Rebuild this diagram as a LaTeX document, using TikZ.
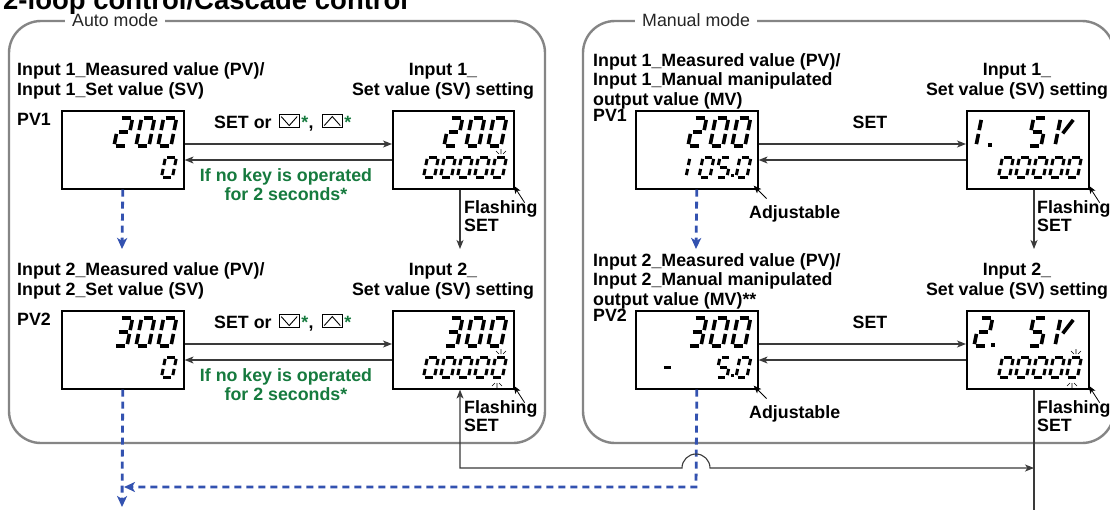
\documentclass[tikz,border=0pt]{standalone}
\usepackage{fontspec}
\setmainfont{Liberation Sans}
\usetikzlibrary{arrows.meta,calc}

\definecolor{framegray}{HTML}{858585}
\definecolor{keygreen}{HTML}{167A3E}
\definecolor{linkblue}{HTML}{3352B0}
\definecolor{wiregray}{HTML}{3A3A3A}

% seven-segment characters: left, bottom, width, height, stroke, segments
\newcommand\lcdchar[6]{\begin{scope}[shift={(#1,#2)},xslant=0.2,yscale=-1,line width=#5pt]\def\lcw{#3}\def\lch{#4}#6\end{scope}}
\newcommand\bigch[3]{\lcdchar{#1}{#2}{13}{28}{3.6}{#3}}
\newcommand\smch[3]{\lcdchar{#1}{#2}{11}{20}{3.0}{#3}}
\def\lcg{1.9}
\newcommand\sgA{\draw (\lcg,\lch)--(\lcw-\lcg,\lch);}
\newcommand\sgB{\draw (\lcw,\lch-\lcg)--(\lcw,\lch/2+\lcg);}
\newcommand\sgC{\draw (\lcw,\lch/2-\lcg)--(\lcw,\lcg);}
\newcommand\sgD{\draw (\lcg,0)--(\lcw-\lcg,0);}
\newcommand\sgE{\draw (0,\lcg)--(0,\lch/2-\lcg);}
\newcommand\sgF{\draw (0,\lch/2+\lcg)--(0,\lch-\lcg);}
\newcommand\sgG{\draw (\lcg,\lch/2)--(\lcw-\lcg,\lch/2);}
\newcommand\sgV{\draw (\lcw,\lch-\lcg)--(0.4*\lcw,0.45*\lch);}
\newcommand\dzero{\sgA\sgB\sgC\sgD\sgE\sgF}
\newcommand\dtwo{\sgA\sgB\sgG\sgE\sgD}
\newcommand\dthree{\sgA\sgB\sgG\sgC\sgD}
\newcommand\dfive{\sgA\sgF\sgG\sgC\sgD}
\newcommand\dleftone{\sgE\sgF}
\newcommand\dminus{\sgG}
\newcommand\dvee{\sgE\sgF\sgV}
% blinking marks above / below a digit
\newcommand\raysup[2]{\draw[ray] (#1-5,#2-5)--(#1-2,#2-2) (#1,#2-7)--(#1,#2-2) (#1+5,#2-5)--(#1+2,#2-2);}
\newcommand\raysdn[2]{\draw[ray] (#1-5,#2+5)--(#1-2,#2+2) (#1,#2+7)--(#1,#2+2) (#1+5,#2+5)--(#1+2,#2+2);}

% one row of the automatic-mode flow
\newcommand\autorow[3]{%
  \node[txt,anchor=base west] (a#1h1) at (17,75+#2) {Input #1\_Measured value (PV)/};
  \node[txt,anchor=base west] (a#1h2) at (17,95+#2) {Input #1\_Set value (SV)};
  \node[txt,anchor=base] (a#1s1) at (443,75+#2) {Input #1\_};
  \node[txt,anchor=base] (a#1s2) at (443,95+#2) {Set value (SV) setting};
  \node[txt,anchor=base west] (a#1pv) at (17,125+#2) {PV#1};
  \node[lcd] (a#1l) at (61,110+#2) {};
  \node[lcd,minimum width=121pt] (a#1r) at (392,110+#2) {};
  \bigch{114}{146+#2}{#3}\bigch{136}{146+#2}{\dzero}\bigch{158}{146+#2}{\dzero}
  \smch{161.5}{177+#2}{\dzero}
  \bigch{444}{146+#2}{#3}\bigch{466}{146+#2}{\dzero}\bigch{488}{146+#2}{\dzero}
  \foreach \cx in {423.5,440.5,457.5,474.5,491.5}{\smch{\cx}{177+#2}{\dzero}}
  \raysup{501}{156+#2}
  \node[txt,anchor=base west] (a#1set) at (214,128+#2) {SET or};
  \node[keydown,anchor=south west] (a#1kd) at ($(a#1set.base east)+(7,0)$) {};
  \node[gtxt,anchor=base west] (a#1st1) at ($(a#1kd.south east)+(1.5,0)$) {*};
  \node[txt,anchor=base west] (a#1cm) at (a#1st1.base east) {,};
  \node[keyup,anchor=south west] (a#1ku) at ($(a#1cm.base east)+(8,0)$) {};
  \node[gtxt,anchor=base west] (a#1st2) at ($(a#1ku.south east)+(1.5,0)$) {*};
  \draw[wire,arr] ($(a#1l.north east)+(0,34)$) -- ($(a#1r.north west)+(0,34)$);
  \draw[wire,arr] ($(a#1r.north west)+(0,50)$) -- ($(a#1l.north east)+(0,50)$);
  \node[gtxt,anchor=base] (a#1g1) at (286,181+#2) {If no key is operated};
  \node[gtxt,anchor=base] (a#1g2) at (286,200+#2) {for 2 seconds*};
  \node[txt,anchor=base west] (a#1fl) at (464,213+#2) {Flashing};
  \node[txt,anchor=base west] (a#1fs) at (464,231+#2) {SET};
  \draw[pointer] ($(a#1r.south east)+(10,13)$) -- ($(a#1r.south east)+(-1,-4)$);
}

% one row of the manual-mode flow
\newcommand\manrow[6]{%
  \node[txt,anchor=base west] (m#1h1) at (593,66+#2) {Input #1\_Measured value (PV)/};
  \node[txt,anchor=base west] (m#1h2) at (593,85.5+#2) {Input #1\_Manual manipulated};
  \node[txt,anchor=base west] (m#1h3) at (593,105+#2) {output value (MV)#6};
  \node[txt,anchor=base] (m#1s1) at (1017,75+#2) {Input #1\_};
  \node[txt,anchor=base] (m#1s2) at (1017,95+#2) {Set value (SV) setting};
  \node[txt,anchor=base west] (m#1pv) at (593,121+#2) {PV#1};
  \node[lcd] (m#1l) at (635,110+#2) {};
  \node[lcd] (m#1r) at (966,110+#2) {};
  \bigch{688}{146+#2}{#3}\bigch{710}{146+#2}{\dzero}\bigch{732}{146+#2}{\dzero}
  #4
  #5
  \bigch{1028}{146+#2}{\dfive}\bigch{1055}{146+#2}{\dvee}
  \foreach \cx in {998.5,1015.5,1032.5,1049.5,1066.5}{\smch{\cx}{177+#2}{\dzero}}
  \node[txt,anchor=base] (m#1set) at (870,128+#2) {SET};
  \draw[wire,arr] ($(m#1l.north east)+(0,34)$) -- ($(m#1r.north west)+(0,34)$);
  \draw[wire,arr] ($(m#1r.north west)+(0,50)$) -- ($(m#1l.north east)+(0,50)$);
  \node[txt,anchor=base west] (m#1adj) at (749,218+#2) {Adjustable};
  \draw[pointer] ($(m#1l.south east)+(8,9)$) -- ($(m#1l.south east)+(-5,-4)$);
  \node[txt,anchor=base west] (m#1fl) at (1037,213+#2) {Flashing};
  \node[txt,anchor=base west] (m#1fs) at (1037,231+#2) {SET};
  \draw[pointer] ($(m#1r.south east)+(10,13)$) -- ($(m#1r.south east)+(-1,-4)$);
}

\begin{document}
\begin{tikzpicture}[x=1pt,y=-1pt,
  txt/.style={inner sep=0pt,font=\fontsize{17.8}{20}\selectfont\bfseries,text=black},
  gtxt/.style={txt,text=keygreen},
  mode/.style={inner sep=0pt,inner xsep=7pt,fill=white,font=\fontsize{17.8}{20}\selectfont,text=black!85},
  frame/.style={draw=framegray,line width=2.4pt,rounded corners=32pt},
  lcd/.style={draw=black,line width=1.6pt,minimum width=122pt,minimum height=78pt,inner sep=0pt,anchor=north west},
  wire/.style={draw=wiregray,line width=1.1pt},
  arr/.style={-{Stealth[length=9pt,width=7pt,inset=2.5pt]}},
  arrboth/.style={{Stealth[length=9pt,width=7pt,inset=2.5pt]}-{Stealth[length=9pt,width=7pt,inset=2.5pt]}},
  bluelink/.style={draw=linkblue,line width=2.8pt,dash pattern=on 7pt off 5pt,-{Stealth[length=11pt,width=10pt,inset=3pt]}},
  pointer/.style={draw=black,line width=0.8pt,-{Stealth[length=8pt,width=6pt,inset=2pt]}},
  ray/.style={line width=0.6pt},
  keybox/.style={draw=black,line width=0.9pt,minimum width=20pt,minimum height=13pt,inner sep=0pt},
  keydown/.style={keybox,path picture={\draw[line width=0.9pt] ([shift={(2pt,-2pt)}]path picture bounding box.north west) -- ([yshift=2pt]path picture bounding box.south) -- ([shift={(-2pt,-2pt)}]path picture bounding box.north east);}},
  keyup/.style={keybox,path picture={\draw[line width=0.9pt] ([shift={(2pt,2pt)}]path picture bounding box.south west) -- ([yshift=-2pt]path picture bounding box.north) -- ([shift={(-2pt,2pt)}]path picture bounding box.south east);}},
]
\useasboundingbox (0,0) rectangle (1110,509);
\fill[white] (0,0) rectangle (1110,509);

\node[anchor=base west,inner sep=0pt,font=\fontsize{27.5}{30}\selectfont\bfseries] (title) at (3,9) {2-loop control/Cascade control};

% mode frames
\draw[frame] (9,21) rectangle (545,443);
\node[mode,anchor=base west] (automode) at (65,26.5) {Auto mode};
\draw[frame] (583,21) rectangle (1114,443);
\node[mode,anchor=base west] (manmode) at (635,26.5) {Manual mode};

% automatic mode
\autorow{1}{0}{\dtwo}
\autorow{2}{200}{\dthree}
\raysdn{497}{381}

% manual mode
\manrow{1}{0}{\dtwo}{\smch{686}{177}{\dleftone}\smch{699}{177}{\dzero}\smch{716}{177}{\dfive}\fill (730.5,174) rectangle (733.5,177);\smch{736}{177}{\dzero}}{\bigch{976}{146}{\dleftone}\fill (988,143) rectangle (991.5,146.5);}{}
\manrow{2}{200}{\dthree}{\smch{660}{377}{\dminus}\smch{716}{377}{\dfive}\fill (730.5,374) rectangle (733.5,377);\smch{736}{377}{\dzero}}{\bigch{974}{346}{\dtwo}\fill (991,343) rectangle (994.5,346.5);}{**}
\raysup{1076}{356}
\raysdn{1072}{381}

% links between the rows
\coordinate (a1blue) at (122,249);
\coordinate (m1blue) at (696,249);
\coordinate (a1setdn) at (460,249);
\coordinate (m1setdn) at (1034,249);
\draw[bluelink] (a1l.south) -- (a1blue);
\draw[bluelink] (m1l.south) -- (m1blue);
\draw[wire,arr] (a1r.south -| a1setdn) -- (a1setdn);
\draw[wire,arr] (m1r.south -| m1setdn) -- (m1setdn);

% links leaving the second row
\coordinate (loopL) at (460,468);
\coordinate (loopR) at (1034,468);
\coordinate (hop) at (696,468);
\coordinate (m2exit) at (1034,512);
\coordinate (m2turn) at (696,487);
\coordinate (a2join) at (124,487);
\coordinate (a2exit) at (122,507);
\draw[bluelink] (m2l.south) -- (m2turn) -- (a2join);
\draw[bluelink] (a2l.south) -- (a2exit);
\draw[wire] (m2r.south -| loopR) -- (m2exit);
\draw[wire,arrboth] (a2r.south -| loopL) -- (loopL) -- ([xshift=-14pt]hop) arc[start angle=180,end angle=360,radius=14] -- (loopR);
\end{tikzpicture}
\end{document}
